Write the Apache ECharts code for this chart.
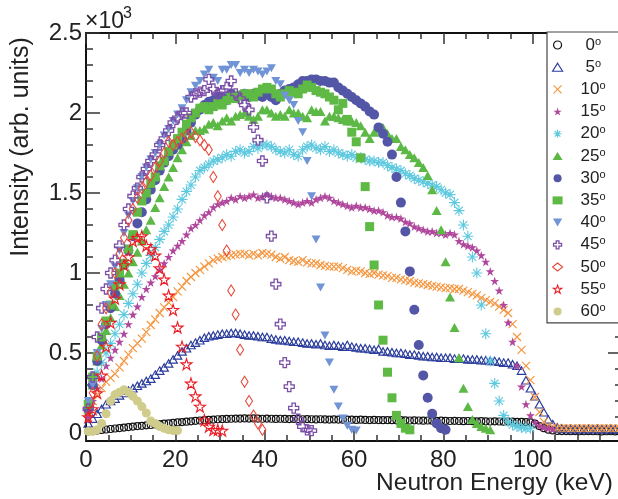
<!DOCTYPE html>
<html><head><meta charset="utf-8">
<script src="https://cdn.jsdelivr.net/npm/echarts@6/dist/echarts.min.js"></script>
<style>html,body{margin:0;padding:0;background:#fff}#c{width:618px;height:499px}</style>
</head><body><div id="c"></div>
<script>
// Energy bin centres (keV)
const energy = [0.5,1.5,2.5,3.5,4.5,5.5,6.5,7.5,8.5,9.5,10.5,11.5,12.5,13.5,14.5,15.5,16.5,17.5,18.5,19.5,20.5,21.5,22.5,23.5,24.5,25.5,26.5,27.5,28.5,29.5,30.5,31.5,32.5,33.5,34.5,35.5,36.5,37.5,38.5,39.5,40.5,41.5,42.5,43.5,44.5,45.5,46.5,47.5,48.5,49.5,50.5,51.5,52.5,53.5,54.5,55.5,56.5,57.5,58.5,59.5,60.5,61.5,62.5,63.5,64.5,65.5,66.5,67.5,68.5,69.5,70.5,71.5,72.5,73.5,74.5,75.5,76.5,77.5,78.5,79.5,80.5,81.5,82.5,83.5,84.5,85.5,86.5,87.5,88.5,89.5,90.5,91.5,92.5,93.5,94.5,95.5,96.5,97.5,98.5,99.5,100.5,101.5,102.5,103.5,104.5,105.5,106.5,107.5,108.5,109.5,110.5,111.5,112.5,113.5,114.5,115.5,116.5,117.5,118.5,119.5];

const angles = ['0','5','10','15','20','25','30','35','40','45','50','55','60'];

// Intensities in units of 10^3 (arb. units)
const deg0 = [0.010,0.013,0.016,0.019,0.022,0.025,0.028,0.031,0.034,0.037,
0.040,0.043,0.045,0.048,0.050,0.053,0.055,0.058,0.060,0.063,
0.066,0.068,0.071,0.073,0.076,0.078,0.080,0.082,0.084,0.086,
0.087,0.088,0.089,0.090,0.090,0.091,0.090,0.091,0.090,0.089,
0.090,0.089,0.088,0.089,0.088,0.087,0.088,0.087,0.086,0.087,
0.086,0.085,0.086,0.085,0.084,0.085,0.084,0.083,0.084,0.083,
0.082,0.083,0.082,0.081,0.082,0.081,0.080,0.081,0.080,0.079,
0.080,0.079,0.078,0.079,0.078,0.077,0.078,0.077,0.076,0.077,
0.076,0.075,0.076,0.075,0.074,0.075,0.074,0.073,0.074,0.073,
0.072,0.073,0.072,0.071,0.072,0.071,0.070,0.069,0.068,0.066,
0.058,0.043,0.030,0.021,0.016,0.013,0.012,0.012,0.011,0.012,
0.011,0.011,0.012,0.011,0.011,0.010,0.011,0.011,0.010,0.011];
const deg5 = [0.06,0.09,0.12,0.15,0.18,0.20,0.215,0.235,0.25,0.265,
0.28,0.295,0.31,0.325,0.34,0.365,0.39,0.41,0.435,0.46,
0.485,0.51,0.53,0.55,0.565,0.58,0.595,0.605,0.61,0.615,
0.62,0.62,0.625,0.625,0.62,0.615,0.61,0.61,0.605,0.60,
0.60,0.59,0.585,0.58,0.58,0.575,0.57,0.57,0.565,0.56,
0.56,0.555,0.56,0.55,0.545,0.55,0.545,0.54,0.55,0.54,
0.535,0.53,0.53,0.525,0.52,0.525,0.51,0.51,0.505,0.50,
0.50,0.495,0.49,0.49,0.485,0.48,0.48,0.475,0.475,0.47,
0.47,0.47,0.465,0.465,0.465,0.46,0.46,0.46,0.455,0.455,
0.45,0.45,0.445,0.44,0.44,0.43,0.42,0.39,0.33,0.28,
0.23,0.18,0.13,0.085,0.055,0.035,0.028,0.025,0.025,0.024,
0.025,0.024,0.025,0.024,0.025,0.024,0.024,0.025,0.024,0.024];
const deg10 = [0.14,0.20,0.24,0.28,0.32,0.345,0.37,0.41,0.45,0.49,
0.53,0.56,0.59,0.63,0.675,0.71,0.75,0.785,0.815,0.85,
0.885,0.915,0.95,0.975,1.0,1.02,1.04,1.06,1.08,1.09,
1.10,1.105,1.11,1.115,1.12,1.12,1.11,1.12,1.11,1.125,
1.12,1.115,1.10,1.09,1.10,1.08,1.075,1.07,1.08,1.065,
1.06,1.06,1.05,1.045,1.04,1.04,1.04,1.03,1.02,1.01,
1.015,1.01,1.0,0.995,1.0,0.99,0.985,0.98,0.97,0.97,
0.96,0.955,0.95,0.94,0.935,0.93,0.925,0.92,0.915,0.91,
0.905,0.905,0.90,0.90,0.89,0.88,0.87,0.86,0.845,0.83,
0.82,0.81,0.79,0.77,0.75,0.68,0.60,0.52,0.42,0.33,
0.225,0.13,0.07,0.045,0.035,0.03,0.03,0.03,0.029,0.03,
0.03,0.029,0.03,0.03,0.029,0.03,0.03,0.029,0.03,0.03];
const deg15 = [0.10,0.20,0.28,0.34,0.42,0.47,0.52,0.57,0.62,0.68,
0.74,0.79,0.85,0.90,0.94,0.98,1.02,1.06,1.10,1.14,
1.17,1.20,1.24,1.28,1.30,1.33,1.36,1.38,1.41,1.43,
1.44,1.45,1.47,1.46,1.48,1.47,1.48,1.49,1.47,1.48,
1.49,1.48,1.47,1.47,1.46,1.45,1.44,1.43,1.44,1.45,
1.44,1.46,1.47,1.48,1.47,1.45,1.44,1.43,1.42,1.41,
1.42,1.41,1.41,1.40,1.39,1.39,1.38,1.36,1.35,1.35,
1.34,1.32,1.31,1.29,1.28,1.27,1.26,1.26,1.25,1.25,
1.24,1.25,1.24,1.20,1.18,1.17,1.16,1.14,1.11,1.07,
1.01,0.95,0.89,0.80,0.69,0.57,0.42,0.29,0.18,0.11,
0.065,0.045,0.035,0.03,0.025];
const deg20 = [0.15,0.30,0.38,0.44,0.50,0.56,0.62,0.68,0.74,0.81,
0.87,0.93,1.00,1.06,1.11,1.16,1.21,1.26,1.30,1.35,
1.40,1.46,1.51,1.55,1.60,1.64,1.66,1.68,1.70,1.71,
1.72,1.74,1.73,1.76,1.77,1.75,1.76,1.79,1.78,1.80,
1.80,1.79,1.77,1.76,1.75,1.77,1.74,1.73,1.77,1.79,
1.80,1.78,1.77,1.79,1.76,1.77,1.75,1.74,1.73,1.74,
1.72,1.72,1.71,1.70,1.70,1.69,1.69,1.67,1.66,1.65,
1.64,1.62,1.61,1.59,1.58,1.57,1.56,1.55,1.54,1.52,
1.50,1.49,1.44,1.39,1.30,1.23,1.10,1.00,0.80,0.62,
0.45,0.31,0.20,0.11,0.07,0.05,0.04,0.035,0.03,0.03];
const deg25 = [0.15,0.30,0.45,0.55,0.64,0.72,0.79,0.86,0.93,1.00,
1.07,1.13,1.20,1.27,1.33,1.41,1.47,1.54,1.60,1.66,
1.72,1.77,1.82,1.86,1.89,1.89,1.90,1.93,1.94,1.92,
1.95,1.97,1.95,1.98,1.99,2.00,1.98,1.96,1.98,2.02,
2.02,2.00,1.98,1.99,1.98,2.02,2.00,2.00,1.98,1.97,
2.02,2.01,2.01,1.95,1.98,1.98,1.97,1.96,1.95,1.95,
1.94,1.92,1.88,1.84,1.88,1.90,1.91,1.87,1.84,1.84,
1.79,1.77,1.74,1.72,1.69,1.66,1.61,1.52,1.39,1.27,
1.07,0.85,0.66,0.47,0.28,0.165,0.085,0.06,0.04,0.03,0.02];
const deg30 = [0.15,0.30,0.45,0.58,0.68,0.78,0.87,0.96,1.05,1.14,
1.23,1.31,1.38,1.46,1.52,1.58,1.64,1.69,1.73,1.77,
1.80,1.84,1.89,1.94,1.99,2.02,2.05,2.07,2.08,2.10,
2.10,2.08,2.12,2.10,2.11,2.12,2.10,2.12,2.11,2.10,
2.12,2.10,2.08,2.12,2.14,2.15,2.16,2.18,2.20,2.20,
2.21,2.21,2.20,2.20,2.19,2.19,2.16,2.14,2.12,2.10,
2.08,2.06,2.04,2.01,1.99,1.91,1.87,1.82,1.74,1.60,
1.44,1.26,1.01,0.77,0.55,0.36,0.22,0.12,0.06,0.03,0.02];
const deg35 = [0.18,0.35,0.48,0.60,0.70,0.80,0.92,1.00,1.06,1.15,
1.24,1.38,1.45,1.50,1.56,1.60,1.67,1.70,1.76,1.80,
1.84,1.88,1.93,1.97,2.00,2.03,2.04,2.02,2.04,2.06,
2.05,2.08,2.10,2.09,2.11,2.12,2.12,2.10,2.13,2.15,
2.16,2.15,2.12,2.10,2.12,2.14,2.13,2.12,2.15,2.175,
2.16,2.14,2.13,2.12,2.10,2.08,2.02,2.06,1.96,1.88,
1.82,1.72,1.54,1.29,1.05,0.80,0.58,0.38,0.22,0.11,0.06,0.03,0.02];
const deg40 = [0.20,0.30,0.50,0.65,0.80,0.93,1.04,1.14,1.25,1.36,
1.45,1.53,1.60,1.66,1.71,1.75,1.80,1.86,1.90,1.95,
1.99,2.03,2.08,2.13,2.17,2.20,2.24,2.27,2.22,2.20,
2.27,2.27,2.30,2.30,2.25,2.27,2.25,2.27,2.26,2.24,
2.26,2.28,2.20,2.18,2.11,2.08,2.05,1.95,1.88,1.70,
1.48,1.21,0.91,0.61,0.44,0.27,0.165,0.09,0.045,0.02,0.015];
const deg45 = [0.15,0.35,0.60,0.78,0.90,1.00,1.08,1.17,1.30,1.40,
1.48,1.53,1.60,1.65,1.70,1.74,1.80,1.84,1.89,1.94,
1.97,2.00,2.00,2.10,2.12,2.13,2.14,2.21,2.15,2.12,
2.14,2.16,2.20,2.12,2.09,2.05,2.02,1.91,1.83,1.70,
1.47,1.23,0.93,0.68,0.44,0.29,0.156,0.086,0.04,0.02,0.015];
const deg50 = [0.10,0.25,0.48,0.68,0.78,0.88,1.00,1.12,1.22,1.33,
1.40,1.47,1.53,1.57,1.61,1.66,1.70,1.75,1.82,1.80,
1.82,1.84,1.86,1.88,1.85,1.83,1.80,1.77,1.60,1.48,
1.30,1.14,0.89,0.74,0.52,0.32,0.20,0.11,0.06,0.02];
const deg55 = [0.10,0.15,0.25,0.36,0.54,0.69,0.84,0.93,1.05,1.10,
1.20,1.22,1.23,1.17,1.15,1.11,1.03,0.96,0.86,0.77,
0.66,0.54,0.43,0.31,0.23,0.165,0.08,0.04,0.02,0.02,0.015];
const deg60 = [0.01,0.01,0.02,0.06,0.12,0.20,0.24,0.255,0.27,0.255,
0.23,0.20,0.165,0.125,0.075,0.06,0.04,0.03,0.02,0.015,0.015];

const xTicks = [0,20,40,60,80,100];
const yMajor = [0,0.5,1,1.5,2,2.5];
const yMinor = [0.1,0.2,0.3,0.4,0.6,0.7,0.8,0.9,1.1,1.2,1.3,1.4,1.6,1.7,1.8,1.9,2.1,2.2,2.3,2.4];

const values = [deg0,deg5,deg10,deg15,deg20,deg25,deg30,deg35,deg40,deg45,deg50,deg55,deg60];

const FONT = '"Liberation Sans", Arial, Helvetica, sans-serif';
const NONE = 'rgba(0,0,0,0)';
const P = {
  cross: 'path://M0,0L10,10M10,0L0,10',
  aster: 'path://M5,0L5,10M0,5L10,5M1.5,1.5L8.5,8.5M8.5,1.5L1.5,8.5',
  star: 'path://M5,0L6.12,3.45L9.76,3.45L6.82,5.59L7.94,9.05L5,6.91L2.06,9.05L3.18,5.59L0.24,3.45L3.88,3.45Z',
  plus: 'path://M3.3,0H6.7V3.3H10V6.7H6.7V10H3.3V6.7H0V3.3H3.3Z',
  triDown: 'path://M0,0L10,0L5,8.66Z'
};
const styles = [
  {symbol:'circle', size:7, fill:NONE, stroke:'#111111', lw:1.2},
  {symbol:'triangle', size:[8.5,7.5], fill:NONE, stroke:'#2b3d9c', lw:1.15},
  {symbol:P.cross, size:8, fill:NONE, stroke:'#f5963f', lw:1.2},
  {symbol:P.star, size:9, fill:'#b0479c', stroke:NONE, lw:0},
  {symbol:P.aster, size:11, fill:NONE, stroke:'#5fc9df', lw:1.1},
  {symbol:'triangle', size:[10,9], fill:'#5db946', stroke:NONE, lw:0},
  {symbol:'circle', size:10, fill:'#5356a6', stroke:NONE, lw:0},
  {symbol:'rect', size:9, fill:'#5fba45', stroke:NONE, lw:0},
  {symbol:P.triDown, size:[9,8], fill:'#7094d5', stroke:NONE, lw:0},
  {symbol:P.plus, size:10, fill:NONE, stroke:'#7b4fa6', lw:1.3},
  {symbol:'diamond', size:[7,11], fill:NONE, stroke:'#e5493d', lw:1.1},
  {symbol:P.star, size:11, fill:NONE, stroke:'#ec1d25', lw:1.1},
  {symbol:'circle', size:9, fill:'#d0cc8c', stroke:NONE, lw:0}
];

const chart = echarts.init(document.getElementById('c'), null, {renderer:'canvas'});
const tickStyle = {color:'#333', width:1.5};
const axisLineStyle = {color:'#111', width:2};
const labelStyle = {fontSize:24, color:'#222', fontFamily:FONT};

const xBase = (pos, showLabel) => ({
  type:'value', position:pos, min:0, max:120, interval:20,
  axisLine:{show:true, onZero:false, lineStyle:axisLineStyle},
  axisTick:{show:true, inside:true, length:11, lineStyle:tickStyle},
  minorTick:{show:true, splitNumber:4, length:6, lineStyle:tickStyle},
  splitLine:{show:false}, minorSplitLine:{show:false},
  axisLabel: showLabel ? Object.assign({margin:7, formatter: v => xTicks.includes(v) ? String(v) : ''}, labelStyle) : {show:false}
});
const yBase = (pos, major, showLabel) => ({
  type:'value', position:pos, min:-0.05, max:2.5,
  axisLine:{show: major, onZero:false, lineStyle:axisLineStyle},
  axisTick:{show:true, inside:true, length: major ? 14 : 7, customValues: major ? yMajor : yMinor, lineStyle:tickStyle},
  splitLine:{show:false},
  axisLabel: showLabel ? Object.assign({margin:4, customValues:yMajor, formatter: v => String(v)}, labelStyle) : {show:false}
});

chart.setOption({
  animation:false,
  backgroundColor:'#ffffff',
  textStyle:{fontFamily:FONT},
  grid:{left:86, right:-4, top:33, bottom:58, outerBoundsMode:'none', containLabel:false},
  xAxis:[xBase('bottom', true), xBase('top', false)],
  yAxis:[yBase('left', true, true), yBase('left', false, false), yBase('right', true, false), yBase('right', false, false)],
  legend:{
    orient:'vertical', left:547, top:32, padding:[4,24,3,5], itemGap:4.7,
    itemWidth:10, itemHeight:8, selectedMode:false,
    backgroundColor:'#ffffff', borderColor:'#444', borderWidth:1.2, borderRadius:0,
    data: angles.map((a,i)=>({name:a+'°', icon:styles[i].symbol,
      itemStyle:{color:styles[i].fill, borderColor:styles[i].stroke, borderWidth:styles[i].lw}})),
    formatter: name => { const n = name.replace('°',''); return (n.length===1?'{p1| }':'{p2| }')+'{n|'+n+'}{s|o}'; },
    textStyle:{fontFamily:FONT, color:'#222', fontSize:17,
      rich:{p1:{width:18}, p2:{width:13},
        n:{fontSize:17, lineHeight:18, fontFamily:FONT, color:'#222'},
        s:{fontSize:11, lineHeight:11, verticalAlign:'top', fontFamily:FONT, color:'#222'}}}
  },
  graphic:[
    {type:'text', x:85, y:22, silent:true, style:{text:'×10', font:'23px '+FONT, fill:'#222', textAlign:'left', textVerticalAlign:'middle'}},
    {type:'text', x:123, y:14, silent:true, style:{text:'3', font:'16px '+FONT, fill:'#222', textAlign:'left', textVerticalAlign:'middle'}},
    {type:'text', x:613, y:483, silent:true, style:{text:'Neutron Energy (keV)', font:'24.5px '+FONT, fill:'#222', textAlign:'right', textVerticalAlign:'middle'}},
    {type:'text', x:21, y:147, rotation:Math.PI/2, silent:true, style:{text:'Intensity (arb. units)', font:'25px '+FONT, fill:'#222', textAlign:'center', textVerticalAlign:'middle'}}
  ],
  series: angles.map((a,i)=>({
    type:'scatter', name:a+'°', xAxisIndex:0, yAxisIndex:0,
    data: values[i].map((v,k)=>[energy[k], v]),
    symbol: styles[i].symbol, symbolSize: styles[i].size, symbolKeepAspect:false,
    itemStyle:{color:styles[i].fill, borderColor:styles[i].stroke, borderWidth:styles[i].lw, opacity:1},
    emphasis:{disabled:true}, silent:true
  }))
});
</script></body></html>
